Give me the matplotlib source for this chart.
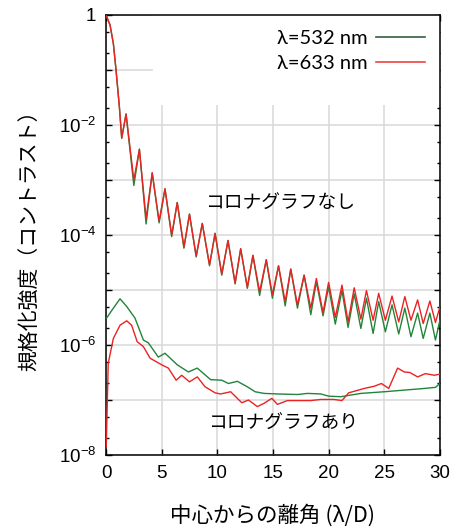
import numpy as np
import matplotlib
matplotlib.use("Agg")
import matplotlib.pyplot as plt
from matplotlib.ticker import LogLocator, FuncFormatter, NullFormatter, MultipleLocator
from matplotlib.patches import Rectangle
from matplotlib.lines import Line2D

# separation from centre (lambda/D), contrast given as log10
x_open = [0.0, 0.36, 0.66, 0.9, 1.2, 1.41, 1.8, 2.5, 3.0, 3.6, 4.15, 4.77, 5.3, 5.9,
          6.4, 7.0, 7.5, 8.1, 8.65, 9.3, 9.8, 10.4, 10.96, 11.6, 12.1, 12.7, 13.2,
          13.8, 14.4, 14.95, 15.5, 16.1, 16.6, 17.2, 17.8, 18.4, 18.9, 19.5, 20.0,
          20.6, 21.2, 21.75, 22.3, 22.9, 23.4, 24.0, 24.5, 25.1, 25.7, 26.3, 26.85,
          27.4, 28.0, 28.5, 29.1, 29.6, 30.0]
log_open_532 = [0.0, -0.18, -0.52, -1.0, -1.67, -2.24, -1.8, -3.1, -2.44, -3.8, -2.87,
                -3.78, -3.16, -4.03, -3.41, -4.24, -3.62, -4.40, -3.79, -4.56, -3.97,
                -4.73, -4.10, -4.89, -4.25, -4.97, -4.37, -5.10, -4.45, -5.15, -4.56,
                -5.29, -4.62, -5.33, -4.73, -5.45, -4.85, -5.47, -4.94, -5.62, -5.01,
                -5.68, -5.07, -5.70, -5.15, -5.79, -5.21, -5.76, -5.27, -5.80, -5.33,
                -5.85, -5.42, -5.88, -5.42, -5.91, -5.55]
log_open_633 = [0.0, -0.18, -0.52, -1.0, -1.67, -2.24, -1.8, -3.0, -2.44, -3.7, -2.87,
                -3.75, -3.16, -4.0, -3.41, -4.22, -3.62, -4.38, -3.79, -4.54, -3.97,
                -4.71, -4.10, -4.87, -4.25, -4.95, -4.37, -5.03, -4.45, -5.08, -4.56,
                -5.21, -4.62, -5.27, -4.73, -5.33, -4.79, -5.41, -4.86, -5.50, -4.91,
                -5.58, -4.96, -5.53, -5.01, -5.55, -5.06, -5.55, -5.11, -5.58, -5.12,
                -5.55, -5.18, -5.61, -5.20, -5.59, -5.31]

x_coro_532 = [0.05, 0.66, 1.26, 1.86, 2.6, 3.36, 3.8, 4.7, 5.3, 6.4, 7.4, 8.2, 9.4,
              10.4, 11.0, 11.8, 12.7, 13.4, 14.2, 15.4, 17.2, 18.1, 19.3, 20.0, 21.1,
              22.9, 25.0, 26.8, 28.6, 29.6, 30.0]
log_coro_532 = [-5.51, -5.33, -5.16, -5.30, -5.51, -5.91, -5.96, -6.22, -6.15, -6.36,
                -6.49, -6.42, -6.63, -6.64, -6.70, -6.66, -6.76, -6.85, -6.88, -6.89,
                -6.90, -6.88, -6.89, -6.93, -6.94, -6.88, -6.85, -6.82, -6.79, -6.77,
                -6.70]

x_coro_633 = [0.02, 0.2, 0.66, 1.26, 1.86, 2.3, 2.8, 3.36, 3.96, 5.0, 5.6, 6.3, 6.8,
              7.5, 8.2, 8.9, 9.4, 9.8, 10.3, 11.2, 12.2, 12.8, 13.6, 14.2, 14.9, 15.4,
              16.3, 18.4, 19.3, 20.5, 21.2, 21.8, 23.2, 24.1, 24.75, 25.4, 26.2, 26.8,
              27.3, 28.0, 28.7, 29.5, 30.0]
log_coro_633 = [-7.85, -6.33, -5.88, -5.64, -5.56, -5.64, -5.94, -6.03, -6.24, -6.36,
                -6.42, -6.64, -6.55, -6.67, -6.58, -6.76, -6.82, -6.87, -6.89, -6.85,
                -7.05, -7.00, -7.12, -7.06, -6.97, -7.08, -7.01, -7.01, -6.99, -6.99,
                -7.01, -6.87, -6.79, -6.75, -6.70, -6.79, -6.42, -6.49, -6.50, -6.58,
                -6.52, -6.55, -6.53]

legend_labels = ["λ=532 nm", "λ=633 nm"]

green = "#22843a"
red = "#ec2222"

plt.rcParams["mathtext.fontset"] = "custom"
plt.rcParams["mathtext.rm"] = "Liberation Sans"
plt.rcParams["mathtext.it"] = "Liberation Sans:italic"
plt.rcParams["mathtext.bf"] = "Liberation Sans:bold"
jp = ["Noto Sans CJK JP", "DejaVu Sans"]

fig = plt.figure(figsize=(4.65, 5.3), dpi=100)
ax = fig.add_axes([0.228, 0.1415, 0.718, 0.8302])

ax.plot(x_open, 10 ** np.array(log_open_532), color=green, lw=1.0, zorder=3)
ax.plot(x_open, 10 ** np.array(log_open_633), color=red, lw=1.0, zorder=4)
ax.plot(x_coro_532, 10 ** np.array(log_coro_532), color=green, lw=1.0, zorder=3)
ax.plot(x_coro_633, 10 ** np.array(log_coro_633), color=red, lw=1.0, zorder=4)

ax.set_yscale("log")
ax.set_xlim(0, 30)
ax.set_ylim(1e-8, 1)

ax.xaxis.set_major_locator(MultipleLocator(5))
ax.yaxis.set_major_locator(LogLocator(base=10, numticks=20))
ax.yaxis.set_minor_locator(LogLocator(base=10, subs=(2.0, 5.0), numticks=20))
ax.yaxis.set_minor_formatter(NullFormatter())


def yfmt(v, pos):
    e = int(round(np.log10(v)))
    if e == 0:
        return "1"
    if e % 2:
        return ""
    return r"10$^{\mathregular{%d}}$" % e


ax.yaxis.set_major_formatter(FuncFormatter(yfmt))
ax.tick_params(axis="both", which="both", direction="in", top=True, right=True,
               labelsize=13.5, width=1.0, colors="black")
ax.tick_params(axis="both", which="major", length=4, pad=7)
ax.tick_params(axis="y", which="minor", length=2.5)
for lab in ax.get_xticklabels() + ax.get_yticklabels():
    lab.set_fontfamily("Liberation Sans")
for s in ax.spines.values():
    s.set_linewidth(1.1)

ax.set_axisbelow(True)
ax.grid(True, which="major", color="#d8d8d8", lw=1.1)
# opaque key area hides the grid in the upper part
ax.add_patch(Rectangle((0.141, 0.795), 0.859, 0.205, transform=ax.transAxes,
                       facecolor="white", edgecolor="none", zorder=1))

ax.text(8.9, 10 ** -3.42, "コロナグラフなし", family=jp, fontsize=13.5,
        va="center", ha="left", zorder=5)
ax.text(9.2, 10 ** -7.42, "コロナグラフあり", family=jp, fontsize=13.5,
        va="center", ha="left", zorder=5)

handles = [Line2D([], [], color="#355e40", lw=1.2), Line2D([], [], color="#ee4444", lw=1.2)]
ax.legend(handles, legend_labels, loc="upper right", bbox_to_anchor=(0.985, 0.988),
          frameon=False, markerfirst=False, handlelength=2.4, handletextpad=0.45,
          labelspacing=0.35, borderpad=0.0, prop={"family": "Lato", "size": 14.5})

ax.set_xlabel("中心からの離角 (λ/D)", family=jp, fontsize=15.5, labelpad=16)
ax.set_ylabel("規格化強度（コントラスト）", family=jp, fontsize=15, labelpad=13)

fig.savefig("out.png", dpi=100)
